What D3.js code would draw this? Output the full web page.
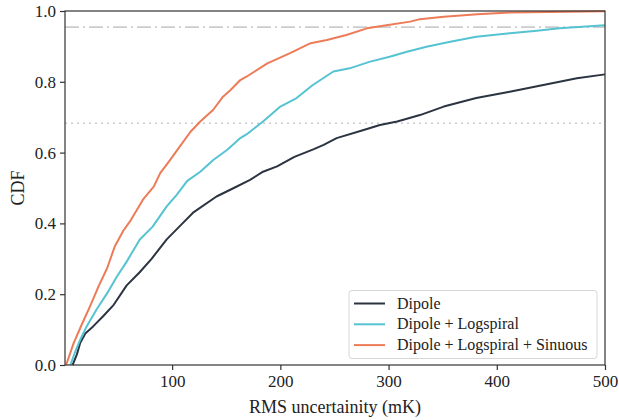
<!DOCTYPE html>
<html>
<head>
<meta charset="UTF-8">
<script src="https://d3js.org/d3.v7.min.js"></script>
</head>
<body style="margin:0">
<svg id="chart"></svg>
<script>
    const width = 619;
    const height = 420;
    const fontFamily = '"Liberation Serif"';

    // [RMS uncertainity (mK), CDF]
    const dipole = [
        [8, 0], [12, 0.03], [15, 0.062], [20, 0.09], [27, 0.109], [36, 0.137], [46, 0.17],
        [58, 0.225], [70, 0.262], [81, 0.3], [95, 0.355], [108, 0.395], [120, 0.432],
        [141, 0.476], [157, 0.5], [172, 0.523], [184, 0.546], [197, 0.561], [213, 0.588],
        [231, 0.61], [240, 0.622], [252, 0.641], [277, 0.664], [292, 0.678], [308, 0.688],
        [329, 0.706], [351, 0.73], [381, 0.754], [412, 0.772], [443, 0.791], [474, 0.81],
        [500, 0.821]
    ];
    const logspiral = [
        [6, 0], [10, 0.034], [15, 0.071], [21, 0.109], [30, 0.156], [40, 0.203], [49, 0.25],
        [58, 0.292], [70, 0.354], [82, 0.391], [95, 0.448], [104, 0.48], [114, 0.52],
        [126, 0.546], [138, 0.579], [151, 0.608], [163, 0.641], [169, 0.652], [184, 0.688],
        [200, 0.73], [215, 0.754], [230, 0.791], [249, 0.829], [264, 0.838], [283, 0.857],
        [301, 0.871], [317, 0.885], [335, 0.899], [357, 0.913], [381, 0.927], [412, 0.937],
        [437, 0.944], [458, 0.951], [500, 0.96]
    ];
    const sinuous = [
        [2, 0], [9, 0.062], [17, 0.118], [24, 0.165], [32, 0.222], [40, 0.274], [47, 0.335],
        [55, 0.38], [62, 0.41], [73, 0.467], [83, 0.504], [89, 0.542], [98, 0.579],
        [107, 0.617], [117, 0.659], [126, 0.688], [138, 0.721], [147, 0.758], [154, 0.777],
        [163, 0.805], [169, 0.815], [188, 0.852], [209, 0.881], [228, 0.909], [243, 0.918],
        [261, 0.932], [280, 0.951], [298, 0.96], [320, 0.97], [329, 0.977], [351, 0.984],
        [382, 0.991], [412, 0.996], [500, 0.999]
    ];

    const seriesNames = ['Dipole', 'Dipole + Logspiral', 'Dipole + Logspiral + Sinuous'];
    const seriesColors = ['#2b3440', '#55c3d2', '#ec7b58'];
    const seriesData = [dipole, logspiral, sinuous];

    const xTicks = [100, 200, 300, 400, 500];
    const yTicks = [0, 0.2, 0.4, 0.6, 0.8, 1.0];
    const sigmaLevels = [0.6827, 0.9545]; // 1 and 2 sigma

    const margin = { top: 11, right: 14, bottom: 55, left: 65 };

    const svg = d3.select('#chart')
        .attr('width', width)
        .attr('height', height)
        .attr('font-family', 'Liberation Serif');

    const x = d3.scaleLinear()
        .domain([1, 500])
        .range([margin.left, width - margin.right]);

    const y = d3.scaleLinear()
        .domain([0, 1])
        .range([height - margin.bottom, margin.top]);

    // reference lines
    svg.append('line')
        .attr('x1', x(1)).attr('x2', x(500))
        .attr('y1', y(sigmaLevels[0])).attr('y2', y(sigmaLevels[0]))
        .attr('stroke', '#cccccc')
        .attr('stroke-width', 1.6)
        .attr('stroke-dasharray', '2,4');

    svg.append('line')
        .attr('x1', x(1)).attr('x2', x(500))
        .attr('y1', y(sigmaLevels[1])).attr('y2', y(sigmaLevels[1]))
        .attr('stroke', '#cccccc')
        .attr('stroke-width', 1.6)
        .attr('stroke-dasharray', '14,4,2,4');

    const line = d3.line()
        .x(d => x(d[0]))
        .y(d => y(d[1]));

    svg.append('g')
        .selectAll('path')
        .data(seriesData)
        .enter().append('path')
        .attr('d', line)
        .attr('fill', 'none')
        .attr('stroke', (d, i) => seriesColors[i])
        .attr('stroke-width', 2)
        .attr('stroke-linejoin', 'round');

    // axes
    const xAxis = svg.append('g')
        .attr('transform', `translate(0,${y(0)})`)
        .call(d3.axisBottom(x).tickValues(xTicks).tickSize(5).tickPadding(5).tickFormat(d3.format('d')));

    const yAxis = svg.append('g')
        .attr('transform', `translate(${x(1)},0)`)
        .call(d3.axisLeft(y).tickValues(yTicks).tickSize(5).tickPadding(4).tickFormat(d3.format('.1f')));

    [xAxis, yAxis].forEach(g => {
        g.attr('font-family', 'Liberation Serif').attr('font-size', 17);
        g.select('.domain').remove();
        g.selectAll('.tick line').attr('stroke', '#333').attr('stroke-width', 1.2);
        g.selectAll('.tick text')
            .style('font-family', fontFamily)
            .attr('fill', '#222');
    });

    // frame
    svg.append('rect')
        .attr('x', x(1))
        .attr('y', y(1))
        .attr('width', x(500) - x(1))
        .attr('height', y(0) - y(1))
        .attr('fill', 'none')
        .attr('stroke', '#333')
        .attr('stroke-width', 1.2);

    // axis labels
    svg.append('text')
        .attr('x', (x(1) + x(500)) / 2)
        .attr('y', 413)
        .attr('text-anchor', 'middle')
        .style('font-family', fontFamily)
        .style('font-size', '18px')
        .attr('fill', '#222')
        .text('RMS uncertainity (mK)');

    svg.append('text')
        .attr('transform', `translate(24,${(y(0) + y(1)) / 2}) rotate(-90)`)
        .attr('text-anchor', 'middle')
        .style('font-family', fontFamily)
        .style('font-size', '18px')
        .attr('fill', '#222')
        .text('CDF');

    // legend
    const legend = svg.append('g');
    legend.append('rect')
        .attr('x', 349)
        .attr('y', 290.5)
        .attr('width', 248)
        .attr('height', 68)
        .attr('rx', 3)
        .attr('fill', 'rgba(255,255,255,0.8)')
        .attr('stroke', '#d6d6d6')
        .attr('stroke-width', 1);

    const rows = legend.selectAll('.row')
        .data(seriesNames)
        .enter().append('g')
        .attr('class', 'row')
        .attr('transform', (d, i) => `translate(354,${303.5 + i * 20.8})`);

    rows.append('line')
        .attr('x1', 0).attr('x2', 31)
        .attr('y1', 0).attr('y2', 0)
        .attr('stroke', (d, i) => seriesColors[i])
        .attr('stroke-width', 2);

    rows.append('text')
        .attr('x', 43)
        .attr('y', 0)
        .attr('dy', '0.32em')
        .style('font-family', fontFamily)
        .style('font-size', '16px')
        .attr('fill', '#222')
        .text(d => d);
</script>
</body>
</html>
